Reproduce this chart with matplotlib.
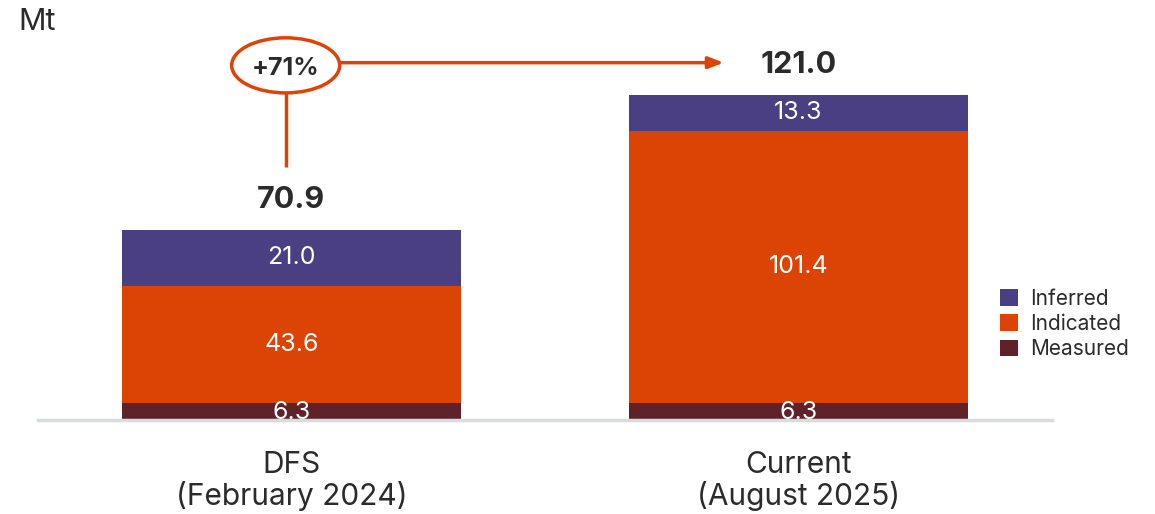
import matplotlib
matplotlib.use("Agg")
import matplotlib.pyplot as plt
from matplotlib.patches import Ellipse

categories = ["DFS\n(February 2024)", "Current\n(August 2025)"]
measured = [6.3, 6.3]
indicated = [43.6, 101.4]
inferred = [21.0, 13.3]
totals = [70.9, 121.0]
change_label = "+71%"
series_names = ["Inferred", "Indicated", "Measured"]

c_inf = "#4B3F84"
c_ind = "#DC4405"
c_mea = "#60222A"
c_txt = "#2B2B2B"

plt.rcParams['font.family'] = ['Inter', 'DejaVu Sans']

W, H = 1155, 514
fig = plt.figure(figsize=(W/100, H/100), dpi=100)
ax = fig.add_axes([38/W, 94/H, (1052-38)/W, 403/H])
ax.set_xlim(-0.5, 1.5)
ax.set_ylim(0, 150)
x = list(range(len(categories)))
bw = 0.667

b1 = ax.bar(x, measured, bw, color=c_mea, label=series_names[2], zorder=2)
b2 = ax.bar(x, indicated, bw, bottom=measured, color=c_ind, label=series_names[1], zorder=2)
bot3 = [m + i for m, i in zip(measured, indicated)]
b3 = ax.bar(x, inferred, bw, bottom=bot3, color=c_inf, label=series_names[0], zorder=2)

for i in x:
    ax.text(i, measured[i]/2 - 0.5, f"{measured[i]:.1f}", ha="center", va="center",
            color="white", fontsize=18, zorder=3)
    ax.text(i, measured[i] + indicated[i]/2, f"{indicated[i]:.1f}", ha="center", va="center",
            color="white", fontsize=18, zorder=3)
    ax.text(i, bot3[i] + inferred[i]/2, f"{inferred[i]:.1f}", ha="center", va="center",
            color="white", fontsize=18, zorder=3)
    ax.text(i, totals[i] + 11.0, f"{totals[i]:.1f}", ha="center", va="center",
            color=c_txt, fontsize=22, fontweight="bold")

for s in ["top", "right", "left"]:
    ax.spines[s].set_visible(False)
ax.spines["bottom"].set_color("#D9DCDF")
ax.spines["bottom"].set_linewidth(2.5)
ax.spines["bottom"].set_zorder(4)
ax.set_yticks([])
ax.set_xticks(x)
ax.set_xticklabels(categories, fontsize=21.5, color=c_txt, linespacing=1.12)
ax.tick_params(axis="x", length=0, pad=22)

# annotation
ex = -0.0115
ey = 132.0
ax.add_patch(Ellipse((ex, ey), 0.213, 20.5, fill=False, edgecolor=c_ind, lw=2.5,
                     zorder=5, clip_on=False))
ax.text(ex, ey - 1.3, change_label, ha="center", va="center", fontsize=18,
        fontweight="bold", color=c_txt, zorder=6)
ax.plot([ex, ex], [ey - 10.25, 94.0], color=c_ind, lw=2.5, solid_capstyle="butt")
ax.annotate("", xy=(0.8525, 133.0), xytext=(ex + 0.1065, 133.0),
            arrowprops=dict(arrowstyle="-|>,head_length=0.9,head_width=0.35",
                            color=c_ind, lw=2.5, shrinkA=0, shrinkB=0))

fig.text(18/W, 1 - 22/H, "Mt", fontsize=22, color=c_txt, va="center", ha="left")

handles = [b3, b2, b1]
leg = fig.legend(handles, series_names, loc="center left",
                 bbox_to_anchor=(992/W, 1 - 324/H), frameon=False, fontsize=15,
                 handlelength=0.85, handleheight=0.85, handletextpad=0.6,
                 labelspacing=0.25, borderaxespad=0)
for t in leg.get_texts():
    t.set_color(c_txt)

fig.savefig("out.png", dpi=100)
